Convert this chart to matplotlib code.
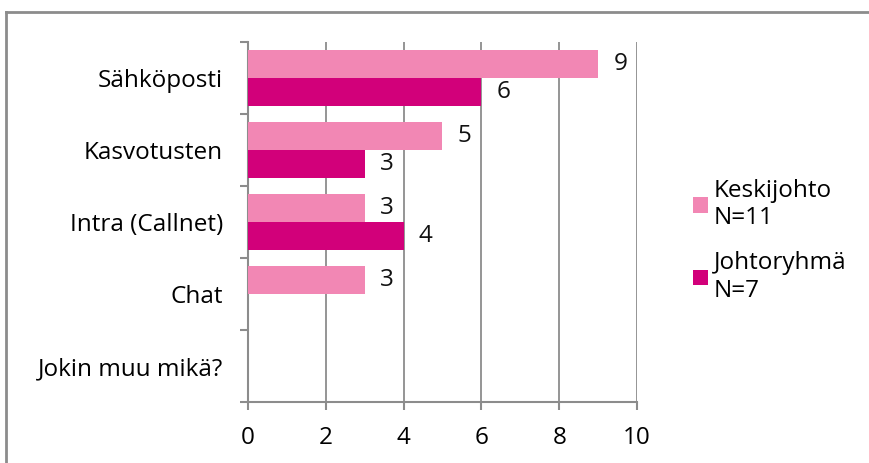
import matplotlib
matplotlib.use("Agg")
import matplotlib.pyplot as plt
from matplotlib.lines import Line2D
from matplotlib.patches import Patch
import numpy as np

categories = ["Sähköposti", "Kasvotusten", "Intra (Callnet)", "Chat", "Jokin muu mikä?"]
keskijohto = [9, 5, 3, 3, 0]
johtoryhma = [6, 3, 4, 0, 0]
series_names = ["Keskijohto\nN=11", "Johtoryhmä\nN=7"]
xticks = [0, 2, 4, 6, 8, 10]

c_light = "#F287B4"
c_dark = "#D2007A"
grey = "#8c8c8c"

plt.rcParams["font.family"] = ["Open Sans", "DejaVu Sans"]
plt.rcParams["font.size"] = 17.5

fig = plt.figure(figsize=(8.7, 4.63), dpi=100)
ax = fig.add_axes([248 / 870, 1 - 402 / 463, (637 - 248) / 870, 360 / 463])

y = np.arange(len(categories))
h = 0.39
b1 = ax.barh(y - h / 2, keskijohto, height=h, color=c_light, edgecolor="none", zorder=3)
b2 = ax.barh(y + h / 2, johtoryhma, height=h, color=c_dark, edgecolor="none", zorder=3)

for bars, vals in ((b1, keskijohto), (b2, johtoryhma)):
    for bar, v in zip(bars, vals):
        if v > 0:
            ax.annotate(str(v), (v, bar.get_y() + bar.get_height() / 2),
                        xytext=(11, 0), textcoords="offset points",
                        ha="left", va="center", color="#111111")

ax.set_xlim(0, 10)
ax.set_ylim(len(categories) - 0.5, -0.5)
ax.set_xticks(xticks)
ax.set_yticks(y)
ax.set_yticklabels(categories)
ax.set_yticks(np.arange(-0.5, len(categories)), minor=True)
ax.tick_params(axis="y", which="major", length=0, pad=18)
ax.tick_params(axis="y", which="minor", length=6, color=grey, width=1.5, direction="out")
ax.tick_params(axis="x", length=6, color=grey, width=1.5, pad=11)
ax.grid(axis="x", color=grey, linewidth=1.3, zorder=0)
for s in ("top", "right"):
    ax.spines[s].set_visible(False)
for s in ("left", "bottom"):
    ax.spines[s].set_color(grey)
    ax.spines[s].set_linewidth(1.5)

handles = [Patch(facecolor=c_light), Patch(facecolor=c_dark)]
fig.legend(handles, series_names, loc="upper left", bbox_to_anchor=(671 / 870, 1 - 157 / 463),
           frameon=False, handlelength=0.62, handleheight=0.62, handletextpad=0.25,
           labelspacing=0.85, fontsize=17.5)

# outer chart frame
fy = 1 - 12 / 463
fx = 6 / 870
fig.add_artist(Line2D([fx, 1], [fy, fy], color=grey, linewidth=2, transform=fig.transFigure))
fig.add_artist(Line2D([fx, fx], [0, fy], color=grey, linewidth=2, transform=fig.transFigure))

fig.savefig("out.png", dpi=100)
